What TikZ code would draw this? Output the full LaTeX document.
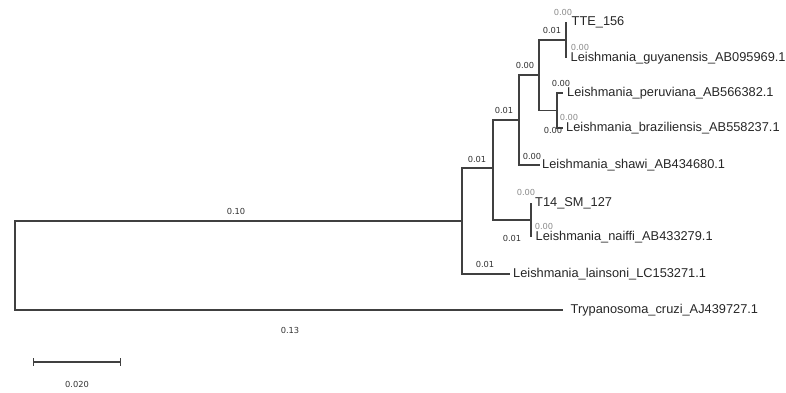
\documentclass[tikz,border=0pt]{standalone}
\usepackage{fontspec}
\setmainfont{Liberation Sans}
\newfontfamily\lenfont{DejaVu Sans}
\usetikzlibrary{positioning}

\tikzset{
	taxon/.style={inner sep=0.5pt, text=black!85, font=\fontsize{12.8}{14}\selectfont},
	blen/.style={inner sep=0pt, text=black!80, font=\lenfont\fontsize{8.3}{9}\selectfont},
	zlen/.style={blen, text=black!45},
	branch/.style={draw=black!75, line width=1.1pt},
}

\begin{document}
\begin{tikzpicture}[x=1pt,y=-1pt]
	\useasboundingbox (0,0) rectangle (786,392);

	% inner nodes of the tree
	\coordinate (r)  at (15, 265.5);
	\coordinate (n1) at (462, 221);
	\coordinate (n2) at (493, 168);
	\coordinate (n3) at (519, 120);
	\coordinate (n4) at (539, 75);
	\coordinate (n5) at (566, 40);
	\coordinate (n6) at (557, 110.5);
	\coordinate (n7) at (531, 220);

	% tips
	\coordinate (tte) at (566, 22);
	\coordinate (tgu) at (566, 58);
	\coordinate (tpe) at (563, 93);
	\coordinate (tbr) at (563, 128);
	\coordinate (tsh) at (540, 165);
	\coordinate (t14) at (531, 203);
	\coordinate (tna) at (531, 237);
	\coordinate (tla) at (510, 274);
	\coordinate (tcr) at (563, 310);

	\node[taxon, right=5pt of tte] (tte156)       {TTE\_156};
	\node[taxon, right=4pt of tgu] (guyanensis)   {Leishmania\_guyanensis\_AB095969.1};
	\node[taxon, right=3.5pt of tpe] (peruviana)  {Leishmania\_peruviana\_AB566382.1};
	\node[taxon, right=2.5pt of tbr] (braziliensis) {Leishmania\_braziliensis\_AB558237.1};
	\node[taxon, right=1.5pt of tsh] (shawi)      {Leishmania\_shawi\_AB434680.1};
	\node[taxon, right=3.5pt of t14] (t14sm)      {T14\_SM\_127};
	\node[taxon, right=4pt of tna] (naiffi)       {Leishmania\_naiffi\_AB433279.1};
	\node[taxon, right=2.5pt of tla] (lainsoni)   {Leishmania\_lainsoni\_LC153271.1};
	\node[taxon, right=7pt of tcr] (cruzi)        {Trypanosoma\_cruzi\_AJ439727.1};

	\path[branch] (r) |- (n1);
	\path[branch] (r) |- (tcr);
	\path[branch] (n1) |- (n2);
	\path[branch] (n1) |- (tla);
	\path[branch] (n2) |- (n3);
	\path[branch] (n2) |- (n7);
	\path[branch] (n3) |- (n4);
	\path[branch] (n3) |- (tsh);
	\path[branch] (n4) |- (n5);
	\path[branch] (n4) |- (n6);
	\path[branch] (n5) |- (tte);
	\path[branch] (n5) |- (tgu);
	\path[branch] (n6) |- (tpe);
	\path[branch] (n6) |- (tbr);
	\path[branch] (n7) |- (t14);
	\path[branch] (n7) |- (tna);

	% branch lengths
	\node[blen] (l1)  at (236, 211) {0.10};
	\node[blen] (l2)  at (290, 330) {0.13};
	\node[blen] (l3)  at (477, 159) {0.01};
	\node[blen] (l4)  at (485, 264) {0.01};
	\node[blen] (l5)  at (504, 110) {0.01};
	\node[blen] (l6)  at (512, 238) {0.01};
	\node[blen] (l7)  at (525, 65)  {0.00};
	\node[blen] (l8)  at (532, 156) {0.00};
	\node[blen] (l9)  at (552, 30)  {0.01};
	\node[zlen] (l10) at (563, 12)  {0.00};
	\node[zlen] (l11) at (580, 47)  {0.00};
	\node[blen] (l12) at (561, 83)  {0.00};
	\node[zlen] (l13) at (569, 117) {0.00};
	\node[blen] (l14) at (553, 130) {0.00};
	\node[zlen] (l15) at (526, 192) {0.00};
	\node[zlen] (l16) at (544, 226) {0.00};

	% scale bar
	\coordinate (s0) at (33, 362);
	\coordinate (s1) at (121, 362);
	\path[branch, |-|] (s0) -- (s1);
	\node[blen] (sc) at (77, 384) {0.020};
\end{tikzpicture}
\end{document}
